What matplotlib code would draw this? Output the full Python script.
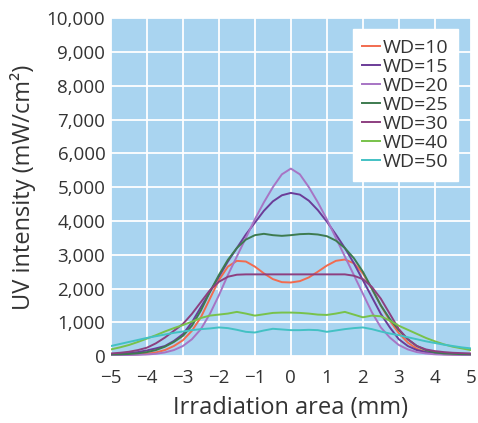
import numpy as np
import matplotlib
matplotlib.use("Agg")
import matplotlib.pyplot as plt
from matplotlib.ticker import FuncFormatter

# irradiation position (mm)
x = np.arange(-5, 5.01, 0.25)

wd10 = [40, 40, 45, 55, 70, 110, 180, 300, 470, 750, 1150, 1700, 2250, 2650, 2820, 2800,
        2650, 2450, 2280, 2190, 2180, 2220, 2330, 2500, 2680, 2820, 2860, 2750, 2450, 2000,
        1500, 1050, 680, 400, 220, 120, 80, 60, 50, 45, 40]
wd15 = [60, 70, 90, 120, 170, 230, 300, 450, 650, 1000, 1450, 1900, 2350, 2800, 3200, 3600,
        3950, 4300, 4580, 4760, 4830, 4780, 4600, 4320, 3980, 3600, 3200, 2750, 2250, 1750,
        1250, 850, 500, 300, 180, 120, 90, 70, 60, 55, 50]
wd20 = [30, 30, 35, 40, 50, 70, 110, 180, 300, 500, 800, 1250, 1800, 2400, 2950, 3500,
        4050, 4550, 5000, 5380, 5550, 5380, 5000, 4550, 4050, 3500, 2950, 2400, 1850, 1300,
        850, 550, 330, 200, 120, 80, 55, 45, 40, 35, 30]
wd25 = [50, 55, 65, 85, 120, 180, 280, 420, 600, 900, 1350, 1900, 2400, 2850, 3200, 3450,
        3580, 3620, 3580, 3560, 3580, 3610, 3620, 3600, 3550, 3420, 3200, 2900, 2500, 2000,
        1500, 1100, 770, 500, 300, 180, 110, 80, 70, 60, 55]
wd30 = [80, 100, 130, 180, 250, 380, 550, 750, 950, 1250, 1600, 1950, 2200, 2350, 2410, 2420,
        2420, 2420, 2420, 2420, 2420, 2420, 2420, 2420, 2420, 2420, 2420, 2380, 2280, 2050,
        1700, 1250, 800, 500, 300, 200, 150, 120, 100, 90, 80]
wd40 = [200, 260, 330, 420, 520, 620, 730, 830, 920, 1020, 1130, 1200, 1230, 1260, 1310, 1260,
        1200, 1240, 1280, 1290, 1290, 1280, 1260, 1230, 1220, 1260, 1310, 1230, 1150, 1200,
        1180, 1050, 900, 780, 660, 540, 440, 350, 280, 230, 180]
wd50 = [300, 360, 420, 480, 540, 590, 640, 690, 730, 770, 800, 820, 850, 830, 780, 720,
        700, 760, 810, 790, 770, 770, 780, 770, 720, 760, 800, 830, 850, 800,
        730, 670, 620, 560, 500, 440, 390, 340, 300, 260, 230]

labels = ["WD=10", "WD=15", "WD=20", "WD=25", "WD=30", "WD=40", "WD=50"]
colors = ["#f26b4f", "#6b3c98", "#a774c4", "#3d7b4f", "#8d3f80", "#78c24a", "#43c1c4"]
series = [wd10, wd15, wd20, wd25, wd30, wd40, wd50]

plt.rcParams['font.family'] = ['Open Sans', 'DejaVu Sans']

fig = plt.figure(figsize=(4.78, 4.23), dpi=100)
ax = fig.add_axes([0.232, 0.158, 0.753, 0.799])
ax.set_facecolor("#a9d4f0")

for y, lab, c in zip(series, labels, colors):
    ax.plot(x, y, color=c, lw=1.4, label=lab)

ax.set_xlim(-5, 5)
ax.set_ylim(0, 10000)
ax.set_xticks(range(-5, 6))
ax.set_yticks(range(0, 10001, 1000))
ax.yaxis.set_major_formatter(FuncFormatter(lambda v, p: f"{int(v):,}"))
ax.grid(True, color="white", lw=1.3)
ax.set_axisbelow(True)
for s in ax.spines.values():
    s.set_visible(False)
ax.tick_params(length=0, labelsize=13.5, colors="#333333")
ax.tick_params(axis="x", pad=9)
ax.tick_params(axis="y", pad=4)

ax.set_xlabel("Irradiation area (mm)", fontsize=17, color="#333333", labelpad=7)
ax.set_ylabel("UV intensity (mW/cm²)", fontsize=17, color="#333333", labelpad=8)

leg = ax.legend(loc="upper right", bbox_to_anchor=(0.965, 0.967), fontsize=14,
                handlelength=0.9, handletextpad=0.15, labelspacing=0.05,
                borderpad=0.5, borderaxespad=0, frameon=True, fancybox=False)
leg.get_frame().set_facecolor("white")
leg.get_frame().set_edgecolor("white")
leg.get_frame().set_alpha(1)
for t in leg.get_texts():
    t.set_color("#333333")

fig.savefig("out.png", dpi=100)
